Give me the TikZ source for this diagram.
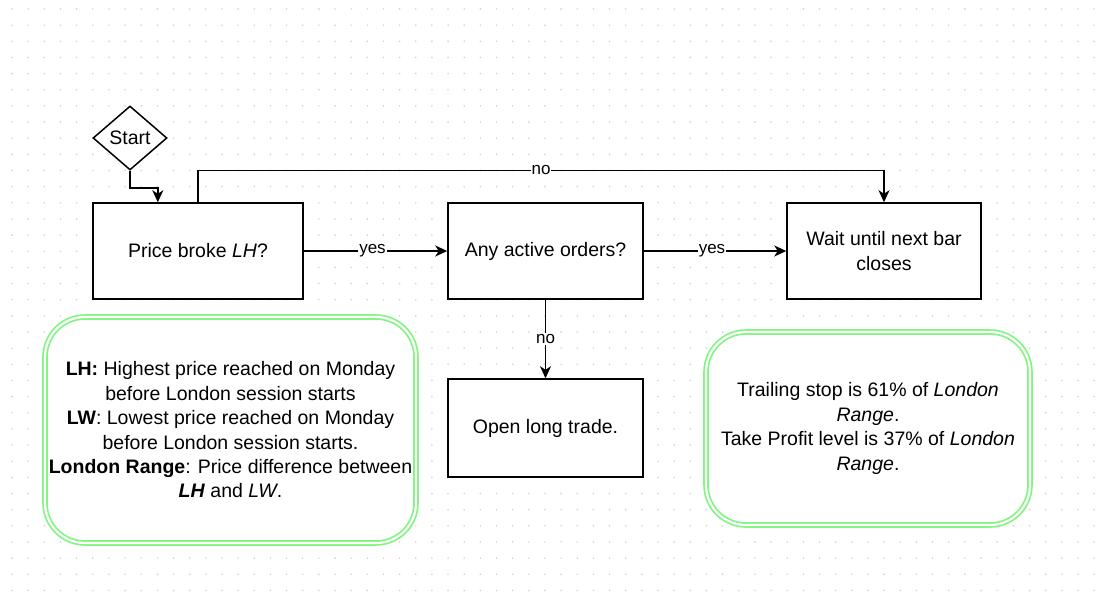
\documentclass[tikz,border=0pt]{standalone}
\usepackage{fontspec}
\setmainfont{Liberation Sans}
\usetikzlibrary{arrows.meta}
\usetikzlibrary{calc}
\usetikzlibrary{shapes.geometric}
\definecolor{notegreen}{HTML}{80F580}
\definecolor{griddot}{HTML}{D2D2D2}
\tikzset{
    flowbox/.style={draw, fill=white, line width=1.5pt, align=center,
        minimum width=210, minimum height=96, inner sep=0pt,
        font=\fontsize{19.5}{24.4}\selectfont},
    startbox/.style={draw, fill=white, line width=1.5pt, shape=diamond,
        minimum width=74, minimum height=64, inner sep=0pt,
        font=\fontsize{19.5}{24.4}\selectfont},
    notebox/.style={draw=notegreen, double=white, double distance=2.2pt,
        line width=1.7pt, fill=white, rounded corners=40pt, align=center,
        inner sep=0pt, font=\fontsize{19.5}{24.4}\selectfont},
    link/.style={line width=1.5pt, -{Stealth[length=12pt, width=11pt, inset=3.5pt]}},
    linklabel/.style={fill=white, inner sep=1pt, font=\fontsize{17}{20}\selectfont},
}

\begin{document}
\begin{tikzpicture}[x=1pt, y=-1pt]

    \def\gridstep{16.15}

    \fill[white] (0,0) rectangle (1100,605);
    \useasboundingbox (0,0) rectangle (1100,605);

    % dotted page grid
    \foreach \i in {0,...,67} {
        \foreach \j in {0,...,36} {
            \fill[griddot] (12+\i*\gridstep, 9+\j*\gridstep) circle [radius=0.9pt];
        }
    }

    \node[startbox] (start) at (130,138) {Start};
    \node[flowbox] (broke) at (198,251) {Price broke \textit{LH}?};
    \node[flowbox, minimum width=195] (orders) at (545.5,251) {Any active orders?};
    \node[flowbox, minimum width=194] (wait) at (884,251) {Wait until next bar\\closes};
    \node[flowbox, minimum width=195, minimum height=98] (open) at (545.5,428) {Open long trade.};

    \node[notebox, minimum width=371, minimum height=226] (legend) at (230.5,430)
        {\textbf{LH:} Highest price reached on Monday\\
         before London session starts\\
         \textbf{LW}: Lowest price reached on Monday\\
         before London session starts.\\
         \textbf{London Range}: Price difference between\\
         \textbf{\textit{LH}} and \textit{LW}.};
    \node[notebox, minimum width=324, minimum height=193] (levels) at (868,428.5)
        {Trailing stop is 61\% of \textit{London}\\
         \textit{Range}.\\
         Take Profit level is 37\% of \textit{London}\\
         \textit{Range}.};

    \coordinate (brokein) at ($(broke.north west)!0.31!(broke.north east)$);

    \draw[link] (start.south) -- ++(0,17) -| (brokein);
    \draw[link] (broke.north) -- ++(0,-32) -| node[linklabel, pos=0.25] {no} (wait.north);
    \draw[link] (broke) -- node[linklabel, xshift=-3pt] {yes} (orders);
    \draw[link] (orders) -- node[linklabel, xshift=-3pt] {yes} (wait);
    \draw[link] (orders) -- node[linklabel] {no} (open);

\end{tikzpicture}
\end{document}
